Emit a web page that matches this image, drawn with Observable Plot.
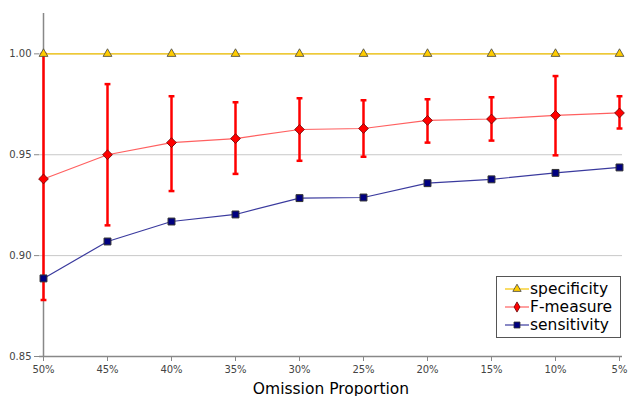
<!DOCTYPE html>
<html>
<head>
<meta charset="utf-8">
<script src="https://cdn.jsdelivr.net/npm/d3@7"></script>
<script src="https://cdn.jsdelivr.net/npm/@observablehq/plot@0.6"></script>
<style>
  html, body { margin: 0; padding: 0; background: #fff; }
  #wrap { position: relative; width: 629px; height: 396px; font-family: "DejaVu Sans", sans-serif; }
  #legend { position: absolute; left: 496px; top: 276px; width: 125px; height: 62px; box-sizing: border-box;
            border: 1px solid #555; background: #fff; padding: 3px 0 0 8px; }
  #legend .row { display: flex; align-items: center; height: 18px; font-size: 15.5px; color: #000; white-space: nowrap; }
  #legend svg { margin-right: 1px; }
</style>
</head>
<body>
<div id="wrap"><div id="chart"></div><div id="legend"></div></div>
<script>
const categories = ["50%", "45%", "40%", "35%", "30%", "25%", "20%", "15%", "10%", "5%"];
const specificity = [1, 1, 1, 1, 1, 1, 1, 1, 1, 1];
const fMeasure = [0.938, 0.950, 0.956, 0.958, 0.9625, 0.963, 0.967, 0.9677, 0.9695, 0.9707];
const fLow = [0.878, 0.915, 0.932, 0.9405, 0.947, 0.949, 0.956, 0.957, 0.9497, 0.963];
const fHigh = [1.0, 0.985, 0.979, 0.976, 0.978, 0.977, 0.9775, 0.9785, 0.989, 0.979];
const sensitivity = [0.8887, 0.907, 0.9169, 0.9204, 0.9285, 0.9288, 0.9359, 0.9378, 0.941, 0.9437];
const yTicks = [0.85, 0.90, 0.95, 1.00];
const seriesNames = ["specificity", "F-measure", "sensitivity"];

const colors = { spec: "#FFCC00", specLine: "#F5C400", f: "#FF0000", fLine: "#FF6060", sens: "#000080", sensLine: "#3A3A9E" };

const rows = categories.map((c, i) => ({ c, spec: specificity[i], f: fMeasure[i], lo: fLow[i], hi: fHigh[i], sens: sensitivity[i] }));

const capSymbol = { draw(ctx, size) { const w = Math.sqrt(size) / 2; ctx.moveTo(-w, 0); ctx.lineTo(w, 0); } };

const chart = Plot.plot({
  width: 629, height: 396,
  marginLeft: 39, marginRight: 7, marginTop: 13, marginBottom: 40,
  style: { fontFamily: "DejaVu Sans, sans-serif", background: "#fff" },
  x: { type: "point", domain: categories, padding: 0 },
  y: { domain: [0.85, 1.02] },
  marks: [
    Plot.gridY(yTicks.slice(1), { stroke: "#c8c8c8", strokeOpacity: 1, strokeWidth: 1 }),
    Plot.ruleX([categories[0]], { y1: yTicks[0], y2: 1.02, stroke: "#888", strokeWidth: 1.5 }),
    Plot.ruleY([yTicks[0]], { stroke: "#888", strokeWidth: 1.5 }),
    Plot.axisY(yTicks, { tickFormat: ".2f", tickSize: 5, tickPadding: 3, fontSize: 10, color: "#444", stroke: "#888", label: null }),
    Plot.axisX(categories, { tickSize: 5, tickPadding: 4, fontSize: 10, color: "#444", stroke: "#888", label: "Omission Proportion", labelAnchor: "center", labelArrow: "none", labelOffset: 37 }),
    Plot.line(rows, { x: "c", y: "spec", stroke: colors.specLine, strokeWidth: 1.2 }),
    Plot.line(rows, { x: "c", y: "f", stroke: colors.fLine, strokeWidth: 1.2 }),
    Plot.line(rows, { x: "c", y: "sens", stroke: colors.sensLine, strokeWidth: 1.2 }),
    Plot.ruleX(rows, { x: "c", y1: "lo", y2: "hi", stroke: colors.f, strokeWidth: 2.5 }),
    Plot.dot(rows, { x: "c", y: "lo", symbol: capSymbol, r: 3.3, stroke: colors.f, strokeWidth: 2.5, fill: "none" }),
    Plot.dot(rows, { x: "c", y: "hi", symbol: capSymbol, r: 3.3, stroke: colors.f, strokeWidth: 2.5, fill: "none" }),
    Plot.dot(rows, { x: "c", y: "sens", symbol: "square2", r: 4.4, fill: colors.sens, stroke: "#333", strokeWidth: 1 }),
    Plot.dot(rows, { x: "c", y: "f", symbol: "diamond2", r: 4.4, fill: colors.f, stroke: "#660000", strokeWidth: 0.8 }),
    Plot.dot(rows, { x: "c", y: "spec", symbol: "triangle2", r: 4.2, fill: colors.spec, stroke: "#444", strokeWidth: 0.8 })
  ]
});
chart.querySelectorAll('[aria-label="x-axis label"] text, [aria-label="x-axis label"]').forEach(el => {
  el.setAttribute("font-size", "15.5"); el.setAttribute("fill", "#000");
});
document.getElementById("chart").appendChild(chart);

// Legend
const legendSpec = [
  { name: seriesNames[0], line: colors.specLine, symbol: d3.symbolTriangle, fill: colors.spec, stroke: "#444", size: 30 },
  { name: seriesNames[1], line: colors.fLine, symbol: d3.symbolDiamond, fill: colors.f, stroke: "#660000", size: 30 },
  { name: seriesNames[2], line: colors.sensLine, symbol: d3.symbolSquare, fill: colors.sens, stroke: "#333", size: 36 }
];
const legend = d3.select("#legend");
legendSpec.forEach(s => {
  const row = legend.append("div").attr("class", "row");
  const svg = row.append("svg").attr("width", 24).attr("height", 14);
  svg.append("line").attr("x1", 0).attr("x2", 24).attr("y1", 7).attr("y2", 7).attr("stroke", s.line).attr("stroke-width", 1.2);
  svg.append("path").attr("transform", "translate(12,7)").attr("d", d3.symbol(s.symbol, s.size)()).attr("fill", s.fill).attr("stroke", s.stroke).attr("stroke-width", 0.8);
  row.append("span").text(s.name);
});
</script>
</body>
</html>
